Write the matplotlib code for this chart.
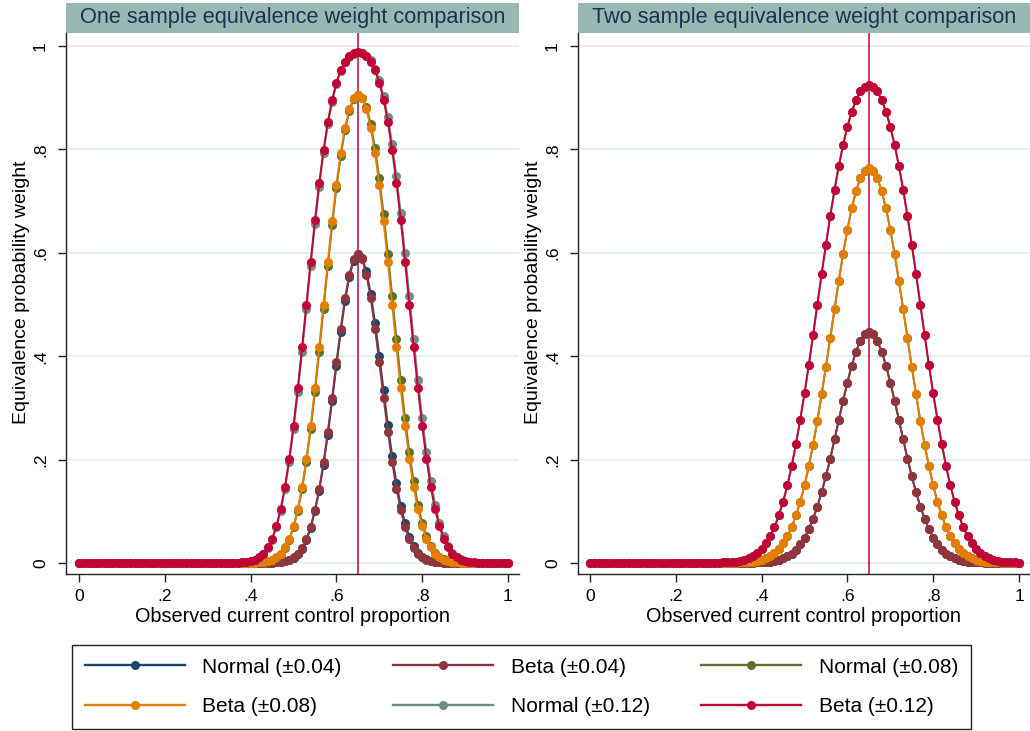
import numpy as np
import matplotlib.pyplot as plt
from matplotlib.patches import Rectangle
from matplotlib.lines import Line2D

plt.rcParams['font.family'] = ['Liberation Sans', 'DejaVu Sans']

# observed current control proportion, 0 to 1 by .01
obs_prop = np.linspace(0, 1, 101)
control_rate = 0.65

# ---- one sample panel ----
one_norm04 = [
    0, 0, 0, 0, 0, 0, 0, 0, 0, 0, 0, 0, 0, 0, 0, 0, 0, 0, 0, 0,
    0, 0, 0, 0, 0, 0, 0, 0, 0, 0, 0, 0, 0, 0, 0, 0, 0, 0, 0, 0,
    0, 0, 0, 0, 0, 0, .001, .002, .003, .006,
    .010, .017, .028, .044, .068, .100, .140, .190, .248, .313,
    .381, .447, .506, .553, .585, .597, .590, .564, .521, .465,
    .401, .334, .267, .207, .154, .111, .077, .051, .032, .020,
    .012, .007, .004, .002, .001, 0, 0, 0, 0, 0,
    0, 0, 0, 0, 0, 0, 0, 0, 0, 0, 0]
one_beta04 = [
    0, 0, 0, 0, 0, 0, 0, 0, 0, 0, 0, 0, 0, 0, 0, 0, 0, 0, 0, 0,
    0, 0, 0, 0, 0, 0, 0, 0, 0, 0, 0, 0, 0, 0, 0, 0, 0, 0, 0, 0,
    0, 0, 0, 0, 0, 0, .001, .002, .003, .006,
    .011, .018, .029, .046, .070, .103, .144, .195, .254, .320,
    .388, .453, .512, .558, .588, .598, .588, .558, .512, .453,
    .388, .320, .254, .195, .144, .103, .070, .046, .029, .018,
    .011, .006, .003, .002, .001, 0, 0, 0, 0, 0,
    0, 0, 0, 0, 0, 0, 0, 0, 0, 0, 0]
one_norm08 = [
    0, 0, 0, 0, 0, 0, 0, 0, 0, 0, 0, 0, 0, 0, 0, 0, 0, 0, 0, 0,
    0, 0, 0, 0, 0, 0, 0, 0, 0, 0, 0, 0, 0, 0, 0, 0, 0, 0, 0, 0,
    0, 0, .001, .002, .003, .006, .010, .017, .029, .045,
    .069, .101, .143, .196, .259, .331, .409, .492, .574, .653,
    .725, .787, .837, .874, .897, .905, .900, .882, .849, .803,
    .744, .675, .598, .516, .434, .354, .280, .214, .158, .113,
    .078, .052, .033, .020, .012, .007, .004, .002, .001, 0,
    0, 0, 0, 0, 0, 0, 0, 0, 0, 0, 0]
one_beta08 = [
    0, 0, 0, 0, 0, 0, 0, 0, 0, 0, 0, 0, 0, 0, 0, 0, 0, 0, 0, 0,
    0, 0, 0, 0, 0, 0, 0, 0, 0, 0, 0, 0, 0, 0, 0, 0, 0, 0, 0, 0,
    0, 0, .001, .002, .003, .006, .011, .018, .030, .047,
    .071, .104, .147, .201, .265, .338, .417, .500, .582, .661,
    .732, .793, .842, .878, .899, .906, .899, .878, .842, .793,
    .732, .661, .582, .500, .417, .338, .265, .201, .147, .104,
    .071, .047, .030, .018, .011, .006, .003, .002, .001, 0,
    0, 0, 0, 0, 0, 0, 0, 0, 0, 0, 0]
one_norm12 = [
    0, 0, 0, 0, 0, 0, 0, 0, 0, 0, 0, 0, 0, 0, 0, 0, 0, 0, 0, 0,
    0, 0, 0, 0, 0, 0, 0, 0, 0, 0,
    0, 0, 0, 0, 0, 0, 0, 0, .001, .002,
    .003, .006, .010, .017, .029, .045, .069, .101, .143, .196,
    .259, .331, .409, .492, .575, .655, .728, .793, .849, .892,
    .926, .951, .969, .979, .985, .988, .986, .981, .972, .956,
    .934, .903, .862, .810, .748, .677, .599, .517, .434, .354,
    .280, .214, .158, .113, .078, .052, .033, .020, .012, .007,
    .004, .002, .001, 0, 0, 0, 0, 0, 0, 0, 0]
one_beta12 = [
    0, 0, 0, 0, 0, 0, 0, 0, 0, 0, 0, 0, 0, 0, 0, 0, 0, 0, 0, 0,
    0, 0, 0, 0, 0, 0, 0, 0, 0, 0,
    0, 0, 0, 0, 0, 0, 0, 0, .001, .002,
    .003, .006, .011, .018, .030, .047, .071, .104, .147, .201,
    .265, .338, .417, .500, .583, .663, .735, .799, .853, .896,
    .929, .953, .970, .980, .986, .988, .986, .980, .970, .953,
    .929, .896, .853, .799, .735, .663, .583, .500, .417, .338,
    .265, .201, .147, .104, .071, .047, .030, .018, .011, .006,
    .003, .002, .001, 0, 0, 0, 0, 0, 0, 0, 0]

# ---- two sample panel (normal and beta sit on top of each other) ----
two_beta04 = [
    0, 0, 0, 0, 0, 0, 0, 0, 0, 0, 0, 0, 0, 0, 0, 0, 0, 0, 0, 0,
    0, 0, 0, 0, 0, 0, 0, 0, 0, 0,
    0, 0, 0, 0, 0, 0, 0, 0, 0, .001,
    .001, .002, .002, .004, .006, .009, .013, .018, .026, .036,
    .049, .066, .086, .109, .137, .168, .202, .239, .277, .314,
    .349, .382, .409, .429, .442, .446, .442, .429, .409, .382,
    .349, .314, .277, .239, .202, .168, .137, .109, .086, .066,
    .049, .036, .026, .018, .013, .009, .006, .004, .002, .002,
    .001, .001, 0, 0, 0, 0, 0, 0, 0, 0, 0]
two_beta08 = [
    0, 0, 0, 0, 0, 0, 0, 0, 0, 0, 0, 0, 0, 0, 0, 0, 0, 0, 0, 0,
    0, 0, 0, 0, 0, 0, 0, 0, 0, 0,
    0, 0, 0, 0, 0, .001, .001, .002, .002, .004,
    .006, .009, .013, .019, .027, .038, .052, .069, .092, .118,
    .150, .187, .229, .275, .326, .380, .435, .491, .546, .598,
    .645, .686, .719, .744, .758, .764, .758, .744, .719, .686,
    .645, .598, .546, .491, .435, .380, .326, .275, .229, .187,
    .150, .118, .092, .069, .052, .038, .027, .019, .013, .009,
    .006, .004, .002, .002, .001, .001, 0, 0, 0, 0, 0]
two_beta12 = [
    0, 0, 0, 0, 0, 0, 0, 0, 0, 0, 0, 0, 0, 0, 0, 0, 0, 0, 0, 0,
    0, 0, 0, 0, 0, 0, 0, 0, 0, 0,
    0, .001, .001, .002, .002, .004, .006, .009, .013, .019,
    .027, .038, .052, .069, .092, .118, .150, .187, .230, .277,
    .328, .383, .441, .500, .559, .616, .671, .722, .768, .809,
    .844, .873, .895, .912, .921, .925, .921, .912, .895, .873,
    .844, .809, .768, .722, .671, .616, .559, .500, .441, .383,
    .328, .277, .230, .187, .150, .118, .092, .069, .052, .038,
    .027, .019, .013, .009, .006, .004, .002, .002, .001, .001, 0]
two_norm04 = two_beta04
two_norm08 = two_beta08
two_norm12 = two_beta12

labels = ['Normal (\u00b10.04)', 'Beta (\u00b10.04)', 'Normal (\u00b10.08)',
          'Beta (\u00b10.08)', 'Normal (\u00b10.12)', 'Beta (\u00b10.12)']
colors = ['#1a476f', '#90353b', '#55752f', '#e37e00', '#6e8e84', '#c10534']
tick_vals = [0, .2, .4, .6, .8, 1]
tick_text = ['0', '.2', '.4', '.6', '.8', '1']

panels = [
    ('One sample equivalence weight comparison',
     [one_norm04, one_beta04, one_norm08, one_beta08, one_norm12, one_beta12]),
    ('Two sample equivalence weight comparison',
     [two_norm04, two_beta04, two_norm08, two_beta08, two_norm12, two_beta12]),
]

W, H = 1030, 731
fig = plt.figure(figsize=(W / 100, H / 100), dpi=100)
fig.patch.set_facecolor('white')

# pixel layout of the two plot regions
ax_left = [66, 578]
ax_right = [519, 1030]
zero_off = [13, 12]          # px from left spine to x = 0
top_px, bot_px = 33, 574
band_h = 30 / (bot_px - top_px)

for (title, series), l, r, z in zip(panels, ax_left, ax_right, zero_off):
    ax = fig.add_axes([l / W, 1 - bot_px / H, (r - l) / W, (bot_px - top_px) / H])
    ax.axvline(control_rate, color='#c10534', lw=1.1, zorder=1.5)
    for ys, lab, col in zip(series, labels, colors):
        ax.plot(obs_prop, ys, color=col, lw=1.4, marker='o', ms=6.5,
                markeredgewidth=0, label=lab, zorder=2)

    ax.set_xlim(-z / 429, (r - l - z) / 429)
    ax.set_ylim(-11 / 517, 1 + 13 / 517)
    ax.set_xticks(tick_vals, tick_text)
    ax.set_yticks(tick_vals, tick_text)
    for lbl in ax.get_yticklabels():
        lbl.set_rotation(90)
        lbl.set_va('center')
    ax.grid(axis='y', color='#e6eef0', lw=1.4)
    ax.set_axisbelow(True)
    for s in ['top', 'right']:
        ax.spines[s].set_visible(False)
    for s in ['left', 'bottom']:
        ax.spines[s].set_color('#222222')
        ax.spines[s].set_linewidth(1.0)
    ax.tick_params(axis='both', direction='out', length=6, width=1,
                   colors='#222222', labelcolor='black', labelsize=12.6)
    ax.tick_params(axis='x', pad=5)
    ax.tick_params(axis='y', pad=7)
    ax.set_xlabel('Observed current control proportion', fontsize=14.3, va='center')
    ax.xaxis.set_label_coords(0.5, -0.078)
    ax.set_ylabel('Equivalence probability weight', fontsize=14, va='center')
    ax.yaxis.set_label_coords(-0.098, 0.52)

    # title band
    ax.add_patch(Rectangle((0, 1), 1, band_h, transform=ax.transAxes,
                           clip_on=False, facecolor='#98b9b2', edgecolor='none'))
    ax.text(0.5, 1 + band_h / 2, title, transform=ax.transAxes, ha='center',
            va='center', fontsize=15.7, color='#1f2f55')

handles = [Line2D([], [], color=c, lw=1.7, marker='o', ms=6.5, markeredgewidth=0)
           for c in colors]
order = [0, 3, 1, 4, 2, 5]   # row-wise order like the original legend
fig.legend([handles[i] for i in order], [labels[i] for i in order], ncol=3,
           loc='lower left', bbox_to_anchor=(72 / W, 2 / H, 899 / W, 86 / H),
           mode='expand', borderaxespad=0, fancybox=False, edgecolor='#222222',
           framealpha=1, fontsize=15, handlelength=4.8, handletextpad=0.85,
           numpoints=1, labelspacing=1.0, borderpad=0.6)

fig.savefig('out.png', dpi=100)
